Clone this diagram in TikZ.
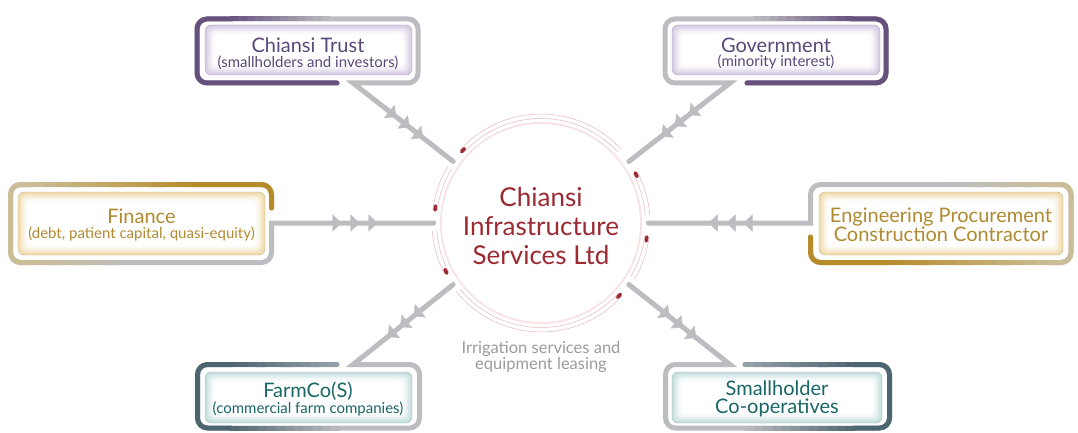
\documentclass[tikz,border=0pt]{standalone}
\usepackage{fontspec}
\setmainfont{Lato}
\usetikzlibrary{arrows.meta,decorations.markings,calc}
\definecolor{cgray}{HTML}{BCBDC0}
\definecolor{purF}{HTML}{65507E}
\definecolor{purT}{HTML}{5A4878}
\definecolor{purE}{HTML}{D4C9E1}
\definecolor{golF}{HTML}{B68C2B}
\definecolor{golT}{HTML}{B08A30}
\definecolor{golE}{HTML}{EFDAAA}
\definecolor{ctan}{HTML}{CBBD98}
\definecolor{slF}{HTML}{4D6570}
\definecolor{slM}{HTML}{97A3A9}
\definecolor{tealT}{HTML}{1A6565}
\definecolor{tealE}{HTML}{C3DEDC}
\definecolor{hubR}{HTML}{9B2A32}
\definecolor{pinkL}{HTML}{E8B6BA}
\definecolor{pinkA}{HTML}{FBEDED}
\definecolor{pinkB}{HTML}{F4D0D2}
\definecolor{pinkC}{HTML}{ECB5B8}
\definecolor{txtG}{HTML}{9C9C9E}
\pgfdeclareradialshading{hubsh}{\pgfpoint{0bp}{0bp}}{color(0bp)=(white); color(34bp)=(white); color(43bp)=(pinkA); color(48bp)=(pinkB); color(50bp)=(pinkC)}
\newcommand\gline[4]{%
  \foreach \gi in {0,...,11}{%
    \pgfmathsetmacro\ga{\gi/12}%
    \pgfmathsetmacro\gb{min((\gi+1.15)/12,1)}%
    \pgfmathtruncatemacro\gm{100-(100*\gi+50)/12}%
    \draw[line width=5pt, draw=#3!\gm!#4] ($(#1)!\ga!(#2)$) -- ($(#1)!\gb!(#2)$);
  }}
\newcommand\ibox[3]{%
  \fill[rounded corners=6pt, #3] (#1) rectangle (#2);
  \foreach \k/\m in {1.5/80,3/60,4.5/40,6/24,7.5/11,9/3,10.5/0}{%
    \fill[rounded corners=5pt, #3!\m!white] ($(#1)+(\k,\k)$) rectangle ($(#2)-(\k,\k)$);}
  \draw[rounded corners=6pt, #3!85!black, line width=0.4pt] (#1) rectangle (#2);
}
\tikzset{
  frame/.style={line width=5pt, line cap=round, line join=miter, draw=cgray},
  ttl/.style={font=\fontsize{20}{18.5}\selectfont, inner sep=0pt, align=center},
  subt/.style={font=\fontsize{15}{16}\selectfont, inner sep=0pt},
  arrs/.style n args={3}{color=cgray, decorate, decoration={markings,
     mark=at position #1 with {\arrow[cgray]{Triangle[length=9pt,width=17pt]}},
     mark=at position #2 with {\arrow[cgray]{Triangle[length=9pt,width=17pt]}},
     mark=at position #3 with {\arrow[cgray]{Triangle[length=9pt,width=17pt]}}}}
}
\begin{document}
\begin{tikzpicture}[x=1pt,y=-1pt]
\useasboundingbox (0,0) rectangle (1078,433);
\fill[white] (0,0) rectangle (1078,433);
% hub
\draw[pinkB!60!white, line width=3pt] (541,223) circle (99.5pt);
\node[circle, minimum size=198pt, inner sep=0pt, shade, shading=hubsh] (hub) at (541,223) {};
\node[circle, minimum size=214pt, inner sep=0pt] (ring) at (541,223) {};
\begin{scope}[shift={(hub.center)}, x=1pt, y=1pt]
  \foreach \a/\b in {138/43, 28/4, -7.5/-31, -42/-141, 208/184, 173/149}{%
    \draw[pinkL, line width=0.5pt] (\a:104.5) arc[start angle=\a, end angle=\b, radius=104.5];
    \draw[pinkL, line width=0.5pt] (\a:109) arc[start angle=\a, end angle=\b, radius=109];
    \draw[hubR, line width=3.5pt, line cap=round] (\a:106.75) arc[start angle=\a, end angle=\a-2.2, radius=106.75];
  }
\end{scope}
\node[text=hubR, align=center, font=\fontsize{26}{29}\selectfont] (hubtext) at (541,226) {Chiansi\\Infrastructure\\Services Ltd};
\node[text=txtG, align=center, font=\fontsize{16.5}{16.5}\selectfont] (irr) at (541,357) {Irrigation services and\\equipment leasing};

% junctions
\coordinate (jT) at (353,83);
\coordinate (jG) at (730,83);
\coordinate (jF) at (271.5,223);
\coordinate (jE) at (810.5,223);
\coordinate (jFa) at (353,364.5);
\coordinate (jS) at (730,364.5);

% inner boxes
\ibox{205,25}{412,75}{purE}
\ibox{672,25}{880,75}{purE}
\ibox{18,192}{265,255}{golE}
\ibox{819,192}{1063,255}{golE}
\ibox{205,372}{412,423}{tealE}
\ibox{672,372}{882,423}{tealE}

% Chiansi Trust frame
\draw[frame] (337,83) [rounded corners=10pt] -- (197,83) -- (197,19) -- (418,19) -- (418,83) [sharp corners] -- (jT) -- (ring.145);
\draw[frame, draw=purF, rounded corners=10pt] (337,83) -- (197,83) -- (197,19) -- (232,19);
\gline{230,19}{330,19}{purF}{cgray}
% Government frame
\draw[frame] (747,83) [rounded corners=10pt] -- (886,83) -- (886,19) -- (665,19) -- (665,83) [sharp corners] -- (jG) -- (ring.35);
\draw[frame, draw=purF, rounded corners=10pt] (747,83) -- (886,83) -- (886,19) -- (851,19);
\gline{853,19}{753,19}{purF}{cgray}
% Finance frame
\draw[frame] (271.5,208) [rounded corners=10pt] -- (271.5,184.5) -- (10.5,184.5) -- (10.5,262.5) -- (271.5,262.5) [sharp corners] -- (jF) -- (ring.180);
\draw[frame, draw=golF, rounded corners=10pt] (271.5,208) -- (271.5,184.5) -- (190,184.5);
\gline{192,184.5}{30,184.5}{golF}{ctan}
\draw[frame, draw=ctan, line cap=butt, rounded corners=10pt] (31,184.5) -- (10.5,184.5) -- (10.5,262.5) -- (31,262.5);
\gline{30,262.5}{140,262.5}{ctan}{cgray}
% EPC frame
\draw[frame] (810.5,237) [rounded corners=10pt] -- (810.5,262.5) -- (1071,262.5) -- (1071,184.5) -- (810.5,184.5) [sharp corners] -- (jE) -- (ring.0);
\draw[frame, draw=golF, rounded corners=10pt] (810.5,237) -- (810.5,262.5) -- (890,262.5);
\gline{888,262.5}{1050,262.5}{golF}{ctan}
\draw[frame, draw=ctan, line cap=butt, rounded corners=10pt] (1049,262.5) -- (1071,262.5) -- (1071,184.5) -- (1049,184.5);
\gline{1050,184.5}{950,184.5}{ctan}{cgray}
% FarmCo frame
\draw[frame] (337,364.5) [rounded corners=10pt] -- (197.5,364.5) -- (197.5,428) -- (419.5,428) -- (419.5,364.5) [sharp corners] -- (jFa) -- (ring.215);
\fill[slM] (337,364.5) circle (2.5pt);
\gline{337,364.5}{230,364.5}{slM}{slF}
\draw[frame, draw=slF, line cap=butt, rounded corners=10pt] (232,364.5) -- (197.5,364.5) -- (197.5,428) -- (232,428);
\gline{230,428}{340,428}{slF}{cgray}
% Smallholder frame
\draw[frame] (745,364.5) [rounded corners=10pt] -- (889.5,364.5) -- (889.5,428) -- (665.5,428) -- (665.5,364.5) [sharp corners] -- (jS) -- (ring.325);
\fill[slM] (745,364.5) circle (2.5pt);
\gline{745,364.5}{855,364.5}{slM}{slF}
\draw[frame, draw=slF, line cap=butt, rounded corners=10pt] (853,364.5) -- (889.5,364.5) -- (889.5,428) -- (853,428);
\gline{855,428}{745,428}{slF}{cgray}

% arrowheads
\path[arrs={55pt}{72pt}{89pt}] (jT) -- (ring.145);
\path[arrs={52pt}{70pt}{87pt}] (jG) -- (ring.35);
\path[arrs={70pt}{88pt}{106pt}] (jF) -- (ring.180);
\path[arrs={67pt}{84pt}{102pt}] (jE) -- (ring.0);
\path[arrs={51pt}{68pt}{84pt}] (ring.215) -- (jFa);
\path[arrs={52pt}{69pt}{86pt}] (ring.325) -- (jS);

% texts
\node[ttl, text=purT] (trust) at (308,45) {Chiansi Trust};
\node[subt, text=purT] (trustsub) at (308,63) {(smallholders and investors)};
\node[ttl, text=purT] (gov) at (776,45) {Government};
\node[subt, text=purT] (govsub) at (776,62) {(minority interest)};
\node[ttl, text=golT] (fin) at (141.5,216) {Finance};
\node[subt, text=golT] (finsub) at (141.5,234) {(debt, patient capital, quasi-equity)};
\node[ttl, text=golT] (epc) at (941,225) {Engineering Procurement\\Construction Contractor};
\node[ttl, text=tealT] (farm) at (308,391) {FarmCo(S)};
\node[subt, text=tealT] (farmsub) at (308,409) {(commercial farm companies)};
\node[ttl, text=tealT] (sh) at (777,399) {Smallholder\\Co-operatives};
\end{tikzpicture}
\end{document}
